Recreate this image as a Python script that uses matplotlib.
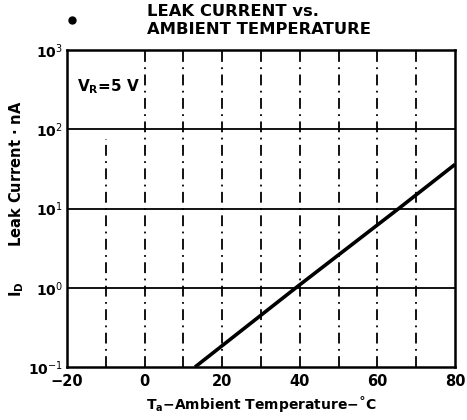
import matplotlib
matplotlib.use("Agg")
import matplotlib.pyplot as plt
from matplotlib.ticker import FixedLocator, FixedFormatter, NullLocator

plt.rcParams['font.family'] = ['DejaVu Sans']

temp = [13, 39, 65.5, 80]
leak_nA = [0.1, 1, 10, 36]
x_ticks = [-20, 0, 20, 40, 60, 80]
x_grid = [0, 10, 20, 30, 40, 50, 60, 70]
y_ticks = [0.1, 1, 10, 100, 1000]
y_labels = ['10$^{-1}$', '10$^{0}$', '10$^{1}$', '10$^{2}$', '10$^{3}$']

fig = plt.figure(figsize=(4.67, 4.2), dpi=100)
ax = fig.add_axes([67/467, 1-367/420, (455-67)/467, (367-50)/420])
ax.set_yscale('log')
ax.set_xlim(-20, 80)
ax.set_ylim(0.1, 1000)

for yv in y_ticks[1:-1]:
    ax.axhline(yv, color='black', lw=1.3)
for xv in x_grid:
    ax.axvline(xv, color='black', lw=1.3, ls=(0, (6, 3, 1, 3)))
# the -10 line stops below the V_R note
ax.axvline(-10, ymax=0.72, color='black', lw=1.3, ls=(0, (6, 3, 1, 3)))

ax.plot(temp, leak_nA, color='black', lw=2.6, solid_capstyle='butt')

for s in ax.spines.values():
    s.set_linewidth(1.8)

ax.xaxis.set_major_locator(FixedLocator(x_ticks))
ax.set_xticklabels([str(t).replace('-', '\u2212') for t in x_ticks], fontweight='bold', fontsize=10.5)
ax.yaxis.set_major_locator(FixedLocator(y_ticks))
ax.yaxis.set_major_formatter(FixedFormatter(y_labels))
ax.yaxis.set_minor_locator(NullLocator())
for lab in ax.get_yticklabels():
    lab.set_fontweight('bold')
    lab.set_fontsize(10)
ax.tick_params(axis='x', length=0, pad=5)
ax.tick_params(axis='y', length=0, pad=3)

ax.text(0.025, 0.885, 'V$_\\mathbf{R}$=5 V', transform=ax.transAxes, fontsize=11,
        fontweight='bold', va='center')

fig.text(147/467, 1-12/420, 'LEAK CURRENT vs.', ha='left', va='center',
         fontsize=11.8, fontweight='bold')
fig.text(147/467, 1-29/420, 'AMBIENT TEMPERATURE', ha='left', va='center',
         fontsize=11.8, fontweight='bold')
fig.add_artist(plt.Line2D([72/467], [1-20/420], marker='o', color='black', markersize=5,
                          transform=fig.transFigure))

ax.set_xlabel('T$_\\mathbf{a}$\u2212Ambient Temperature\u2212\u02DAC', fontsize=10, fontweight='bold', labelpad=4)
ax.set_ylabel('I$_\\mathbf{D}$       Leak Current \u00B7 nA', fontsize=10.5, fontweight='bold')
ax.yaxis.set_label_coords(-0.105, 0.53)

fig.savefig('out.png', dpi=100)
